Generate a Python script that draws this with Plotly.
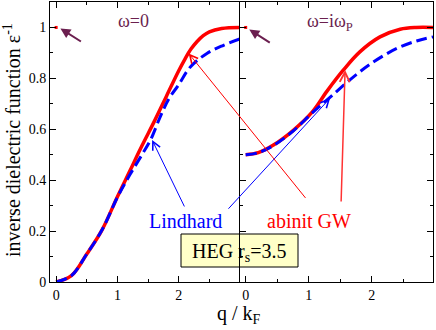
import plotly.graph_objects as go

# ---- data (q / k_F vs inverse dielectric function) ----
# left panel: omega = 0
q_gw_static = [0, 0.25, 0.5, 0.75, 1.0, 1.2, 1.4, 1.6, 1.8, 2.0, 2.1, 2.2, 2.3, 2.4, 2.5, 2.7, 3.0]
eps_gw_static = [0, 0.025, 0.11, 0.205, 0.335, 0.435, 0.535, 0.63, 0.73, 0.83, 0.875, 0.915, 0.945,
                 0.968, 0.983, 0.996, 1.0]
q_lind_static = [0, 0.25, 0.5, 0.75, 1.0, 1.2, 1.4, 1.54, 1.7, 1.84, 2.0, 2.19, 2.46, 2.73, 3.0]
eps_lind_static = [0, 0.025, 0.11, 0.205, 0.333, 0.42, 0.5, 0.558, 0.65, 0.72, 0.775, 0.845, 0.898,
                   0.93, 0.955]

# right panel: omega = i omega_p
q_gw_imag = [0, 0.2, 0.44, 0.76, 1.05, 1.29, 1.55, 1.81, 2.13, 2.45, 2.7, 2.97]
eps_gw_imag = [0.5, 0.508, 0.538, 0.597, 0.666, 0.75, 0.833, 0.904, 0.963, 0.993, 1.0, 1.0]
q_lind_imag = [0, 0.2, 0.44, 0.76, 1.05, 1.35, 1.71, 2.03, 2.4, 2.71, 2.97]
eps_lind_imag = [0.5, 0.508, 0.536, 0.595, 0.663, 0.728, 0.806, 0.865, 0.918, 0.947, 0.963]

# the q=0 head point of the GW calculation (same in both panels)
q_head = [0]
eps_head = [1.0]

RED = "#ff0000"
BLUE = "#0000ff"
PURPLE = "#6b1f4f"
SERIF = "Times New Roman, Liberation Serif, serif"

# layout in pixels: plot area spans x 50..433, y 2..282
L, R, T, B = 50, 3, 2, 48
PW, PH = 436 - L - R, 330 - T - B


def px(x):
    return (x - L) / PW


def py(y):
    return (330 - B - y) / PH


fig = go.Figure()

for xa, ya, qg, eg, ql, el in [("x", "y", q_gw_static, eps_gw_static, q_lind_static, eps_lind_static),
                               ("x2", "y2", q_gw_imag, eps_gw_imag, q_lind_imag, eps_lind_imag)]:
    fig.add_trace(go.Scatter(x=qg, y=eg, xaxis=xa, yaxis=ya, mode="lines",
                             line=dict(color=RED, width=3.5, shape="spline"), showlegend=False))
    fig.add_trace(go.Scatter(x=ql, y=el, xaxis=xa, yaxis=ya, mode="lines",
                             line=dict(color=BLUE, width=3, dash="11px,5px", shape="spline"),
                             showlegend=False))
    fig.add_trace(go.Scatter(x=q_head, y=eps_head, xaxis=xa, yaxis=ya, mode="markers",
                             marker=dict(color=RED, size=3, symbol="square"), showlegend=False,
                             cliponaxis=False))

axis_common = dict(showline=True, linecolor="black", linewidth=1, mirror="ticks",
                   ticks="inside", ticklen=6, tickwidth=1, tickcolor="black",
                   showgrid=False, zeroline=False, showspikes=False,
                   tickfont=dict(family=SERIF, size=14, color="black"))
y_minor = dict(dtick=0.1, tick0=0, ticks="inside", ticklen=3, tickcolor="black")
x_minor = dict(dtick=0.5, tick0=0, ticks="inside", ticklen=3, tickcolor="black")

split = px(240)
fig.update_layout(
    width=436, height=330,
    margin=dict(l=L, r=R, t=T, b=B),
    paper_bgcolor="white", plot_bgcolor="white",
    hovermode=False,
    xaxis=dict(domain=[0, split], range=[-0.1, 3.0], tickvals=[0, 1, 2],
               minor=x_minor, anchor="y", **axis_common),
    # left y axis: no mirror, the shared middle line comes from the right panel
    yaxis=dict(domain=[0, 1], range=[0, 1.1], dtick=0.2, tick0=0, minor=y_minor, anchor="x",
               **{**axis_common, "mirror": False}),
    xaxis2=dict(domain=[split, 1], range=[-0.09, 2.97], tickvals=[0, 1, 2],
                minor=x_minor, anchor="y2", **axis_common),
    yaxis2=dict(domain=[0, 1], range=[0, 1.1], dtick=0.2, tick0=0, showticklabels=False,
                minor=y_minor, anchor="x2", **axis_common),
    # ticks of the middle line pointing into the left panel
    yaxis3=dict(overlaying="y2", anchor="x2", side="left", range=[0, 1.1], dtick=0.2, tick0=0,
                showticklabels=False, showline=False, showgrid=False, zeroline=False,
                ticks="outside", ticklen=6, tickcolor="black",
                minor=dict(dtick=0.1, tick0=0, ticks="outside", ticklen=3, tickcolor="black")),
)

# HEG box
fig.add_shape(type="rect", xref="paper", yref="paper",
              x0=px(181), x1=px(298), y0=py(267), y1=py(234),
              fillcolor="#ffffc8", line=dict(color="black", width=1), layer="below")


def label(text, x, y, color, size=20, **kw):
    return dict(text=text, xref="paper", yref="paper", x=px(x), y=py(y), showarrow=False,
                xanchor="center", yanchor="middle", font=dict(family=SERIF, size=size, color=color),
                **kw)


annotations = [
    label("ω=0", 133, 21, PURPLE, size=18),
    label("ω=iω<sub>P</sub>", 330, 23, PURPLE, size=18),
    label("Lindhard", 185, 221, BLUE),
    label("abinit GW", 309, 221, RED),
    label("HEG r<sub>s</sub>=3.5", 239, 252, "black"),
    label("inverse dielectric function ε<sup>-1</sup>", 12, 140, "black", textangle=-90),
    label("q / k<sub>F</sub>", 239, 314, "black"),
    # arrows
    dict(text="", xref="x", yref="y", x=0.07, y=0.996, ax=22, ay=14, showarrow=True,
         arrowhead=2, arrowsize=1, arrowwidth=2, arrowcolor=PURPLE),
    dict(text="", xref="x2", yref="y2", x=0.057, y=0.992, ax=22, ay=14, showarrow=True,
         arrowhead=2, arrowsize=1, arrowwidth=2, arrowcolor=PURPLE),
    dict(text="", xref="x", yref="y", x=1.566, y=0.558, ax=33, ay=68, showarrow=True,
         arrowhead=5, arrowsize=1.6, arrowwidth=1, arrowcolor=BLUE),
    dict(text="", xref="x2", yref="y2", x=1.338, y=0.722, ax=-103, ay=112, showarrow=True,
         arrowhead=5, arrowsize=1.6, arrowwidth=1, arrowcolor=BLUE),
    dict(text="", xref="x", yref="y", x=2.163, y=0.898, ax=118, ay=146, showarrow=True,
         arrowhead=5, arrowsize=1.6, arrowwidth=1, arrowcolor=RED),
    dict(text="", xref="x2", yref="y2", x=1.576, y=0.833, ax=-4, ay=133, showarrow=True,
         arrowhead=5, arrowsize=1.3, arrowwidth=1.5, arrowcolor="#ff3333"),
]
fig.update_layout(annotations=annotations)

# drop the browser's default 8px body margin so the figure sits at the page corner
fig.write_html("out.html", config={"staticPlot": True},
               post_script="document.body.style.margin='0px';")
